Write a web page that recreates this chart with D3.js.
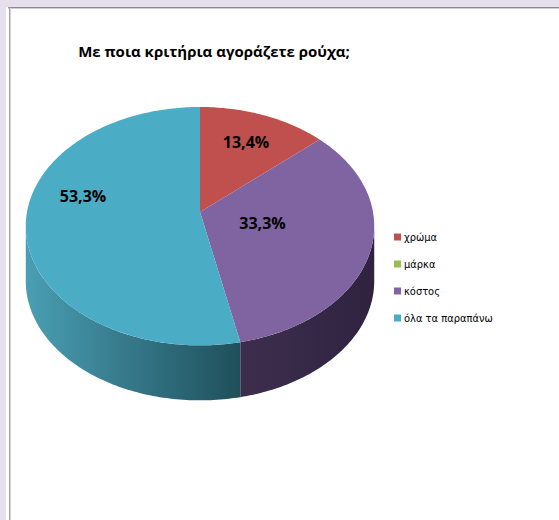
<!DOCTYPE html>
<html>
<head>
<meta charset="utf-8">
<script src="https://cdn.jsdelivr.net/npm/d3@7"></script>
<style>
  html, body { margin: 0; padding: 0; background: #e5e0ec; }
  svg { display: block; }
</style>
</head>
<body>
<svg id="chart" width="559" height="520"></svg>
<script>
// Survey answers: "By which criteria do you buy clothes?"
const categories = ["χρώμα", "μάρκα", "κόστος", "όλα τα παραπάνω"];
const values = [13.4, 0, 33.3, 53.3];           // percent of answers
const colors = ["#c0504d", "#9bbb59", "#8064a2", "#4bacc6"];
const title = "Με ποια κριτήρια αγοράζετε ρούχα;";

// label placement inside each slice: radius factor and angle shift (degrees)
const labelRadius = [0.70, 0, 0.37, 0.70];
const labelShift = [0, 0, -3, 17];

const W = 559, H = 520;
const svg = d3.select("#chart");

// frame
svg.append("rect").attr("width", W).attr("height", H).attr("fill", "#e5e0ec");
svg.append("rect").attr("x", 6).attr("y", 7).attr("width", W - 6).attr("height", H - 7).attr("fill", "#fff");
svg.append("line").attr("x1", 8).attr("x2", W).attr("y1", 7.5).attr("y2", 7.5).attr("stroke", "#8c8c8c");
svg.append("line").attr("x1", 8).attr("x2", W).attr("y1", 8.5).attr("y2", 8.5).attr("stroke", "#cfcfcf");
svg.append("line").attr("x1", 9.5).attr("x2", 9.5).attr("y1", 7).attr("y2", H).attr("stroke", "#a6a6a6");
svg.append("line").attr("x1", 10.5).attr("x2", 10.5).attr("y1", 8).attr("y2", H).attr("stroke", "#d4d4d4");

// title
svg.append("text")
  .attr("x", 214).attr("y", 57)
  .attr("text-anchor", "middle")
  .attr("font-family", "'Open Sans', 'Noto Sans', sans-serif")
  .attr("font-weight", "bold")
  .attr("font-size", 15)
  .attr("fill", "#000")
  .text(title);

// 3D pie projection: a tilted disc seen in perspective
const CX = 200, CY = 212;     // projected centre of the top face
const RX = 173, RY = 117.5;   // horizontal / vertical extent factors
const PERSP = 0.119;          // perspective strength toward the viewer
const DEPTH = 55;             // thickness of the disc

function proj(theta, r, dy) {
  const u = r * Math.sin(theta), v = r * Math.cos(theta);
  const w = 1 + PERSP * v;
  return [CX + RX * u / w, CY - RY * v / w + (dy || 0)];
}
function arcPoints(a0, a1, dy) {
  const n = Math.max(2, Math.ceil(Math.abs(a1 - a0) / (Math.PI / 180)));
  return d3.range(n + 1).map(i => proj(a0 + (a1 - a0) * i / n, 1, dy));
}

const pie = d3.pie().sort(null).startAngle(0).endAngle(2 * Math.PI);
const arcs = pie(values);

const defs = svg.append("defs");
const sideGrad = [
  null, null,
  ["#3d2e4e", "#2f2340", 240, 372],
  ["#4a9fb4", "#1f4f5b", 25, 240]
];
sideGrad.forEach((g, i) => {
  if (!g) return;
  const lg = defs.append("linearGradient").attr("id", "side" + i)
    .attr("gradientUnits", "userSpaceOnUse")
    .attr("x1", g[2]).attr("x2", g[3]).attr("y1", 0).attr("y2", 0);
  lg.append("stop").attr("offset", 0).attr("stop-color", g[0]);
  lg.append("stop").attr("offset", 1).attr("stop-color", g[1]);
});

// the outer wall faces the viewer where cos(theta) < -PERSP
const visStart = Math.acos(-PERSP), visEnd = 2 * Math.PI - visStart;
const line = d3.line();
const sides = svg.append("g");
arcs.forEach((a, i) => {
  const s = Math.max(a.startAngle, visStart), e = Math.min(a.endAngle, visEnd);
  if (e <= s) return;
  const pts = arcPoints(s, e, 0).concat(arcPoints(e, s, DEPTH));
  sides.append("path")
    .attr("d", line(pts) + "Z")
    .attr("fill", sideGrad[i] ? `url(#side${i})` : d3.color(colors[i]).darker(1.5));
});

// top faces
const tops = svg.append("g");
arcs.forEach((a, i) => {
  if (a.endAngle - a.startAngle <= 0) return;
  const pts = [proj(0, 0)].concat(arcPoints(a.startAngle, a.endAngle, 0));
  tops.append("path")
    .attr("d", line(pts) + "Z")
    .attr("fill", colors[i]);
});

// value labels
const fmt = v => d3.format(".1f")(v).replace(".", ",") + "%";
arcs.forEach((a, i) => {
  if (a.value <= 0) return;
  const mid = (a.startAngle + a.endAngle) / 2 + labelShift[i] * Math.PI / 180;
  const p = proj(mid, labelRadius[i]);
  svg.append("text")
    .attr("x", p[0]).attr("y", p[1])
    .attr("dy", "0.36em")
    .attr("text-anchor", "middle")
    .attr("font-family", "'Open Sans', 'Noto Sans', sans-serif")
    .attr("font-weight", "bold")
    .attr("font-size", 16)
    .attr("fill", "#000")
    .text(fmt(a.value));
});

// legend
const legend = svg.append("g").attr("transform", "translate(394,237)");
const rowStep = 27;
categories.forEach((c, i) => {
  const g = legend.append("g").attr("transform", `translate(0,${i * rowStep})`);
  g.append("rect").attr("x", 0).attr("y", -3.5).attr("width", 7).attr("height", 7).attr("fill", colors[i]);
  g.append("text")
    .attr("x", 10).attr("y", 0).attr("dy", "0.35em")
    .attr("font-family", "'DejaVu Sans Condensed', 'Roboto', sans-serif")
    .attr("font-stretch", "condensed")
    .attr("font-size", 11)
    .attr("fill", "#000")
    .text(c);
});
</script>
</body>
</html>
